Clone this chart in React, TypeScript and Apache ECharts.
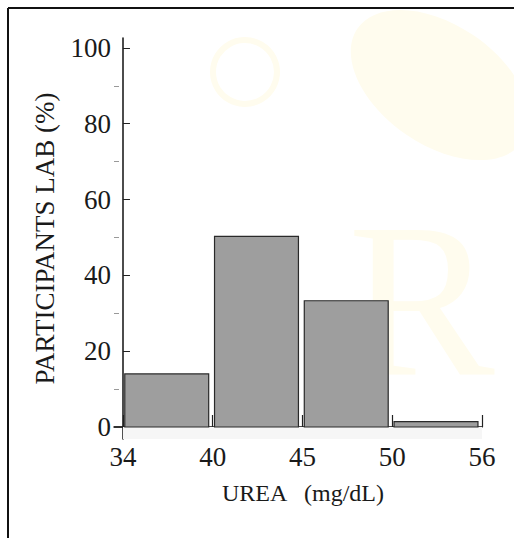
import React, { useEffect, useRef } from "react";
import * as echarts from "echarts";

const binEdges = ["34", "40", "45", "50", "56"];
const binIndex = [0, 1, 2, 3];
const percentValues = [14, 50.3, 33.3, 1.4];
const yMajorTicks = [0, 20, 40, 60, 80, 100];
const yMinorTicks = [10, 30, 50, 70, 90];
const xTickPositions = [0, 1, 2, 3, 4];

const FONT = "'Liberation Serif', 'Times New Roman', serif";
const WM = "#fffcee";

export default function App() {
  const ref = useRef<HTMLDivElement>(null);
  useEffect(() => {
    document.body.style.margin = "0";
    const chart = echarts.init(ref.current!, null, { renderer: "svg" });
    const barData = binIndex.map((b, i) => [b, percentValues[i]]);
    chart.setOption({
      animation: false,
      backgroundColor: "#ffffff",
      graphic: [
        { type: "ellipse", x: 440, y: 85, rotation: -0.6, shape: { cx: 0, cy: 0, rx: 100, ry: 60 }, style: { fill: WM }, z: -10 },
        { type: "circle", shape: { cx: 245, cy: 72, r: 32 }, style: { fill: "none", stroke: WM, lineWidth: 6 }, z: -10 },
        { type: "text", x: 348, y: 190, style: { text: "R", fontFamily: FONT, fontSize: 220, fill: WM }, z: -10 },
        { type: "line", shape: { x1: 8, y1: 8, x2: 514, y2: 8 }, style: { stroke: "#111", lineWidth: 2 } },
        { type: "line", shape: { x1: 8, y1: 8, x2: 8, y2: 538 }, style: { stroke: "#111", lineWidth: 2 } },
      ],
      grid: { left: 114, right: 32, top: 38, bottom: 99 },
      xAxis: {
        type: "value",
        min: -0.1,
        max: 4,
        splitLine: { show: false },
        axisLine: { show: true, lineStyle: { color: "#111", width: 1.5 } },
        axisTick: { show: true, inside: true, length: 12, customValues: xTickPositions, lineStyle: { color: "#222", width: 1.2 } },
        axisLabel: {
          customValues: xTickPositions,
          formatter: (v: number) => binEdges[Math.round(v)] ?? "",
          fontFamily: FONT,
          fontSize: 27,
          color: "#1a1a1a",
          margin: 4,
        },
        name: "UREA   (mg/dL)",
        nameLocation: "middle",
        nameGap: 42,
        nameTextStyle: { fontFamily: FONT, fontSize: 24, color: "#1a1a1a", padding: [0, 0, 0, 10] },
      },
      yAxis: [
        {
          type: "value",
          position: "left",
          min: -3.17,
          max: 102.6,
          splitLine: { show: false },
          axisLine: { show: true, lineStyle: { color: "#111", width: 1.5 } },
          axisTick: { show: true, inside: true, length: 7, customValues: yMajorTicks, lineStyle: { color: "#222" } },
          axisLabel: { customValues: yMajorTicks, fontFamily: FONT, fontSize: 27, color: "#1a1a1a", margin: 3 },
          name: "PARTICIPANTS LAB (%)",
          nameLocation: "middle",
          nameRotate: 90,
          nameGap: 56,
          nameTextStyle: { fontFamily: FONT, fontSize: 27, color: "#1a1a1a" },
        },
        {
          type: "value",
          position: "left",
          min: -3.17,
          max: 102.6,
          splitLine: { show: false },
          axisLine: { show: false },
          axisTick: { show: true, inside: true, length: 5, customValues: yMinorTicks, lineStyle: { color: "#999" } },
          axisLabel: { show: false },
        },
      ],
      series: [
        {
          type: "custom",
          data: [[0, 0]],
          silent: true,
          renderItem: (_p: any, api: any) => {
            const a = api.coord([0, 0]);
            const b = api.coord([4, -3.17]);
            const o = api.coord([-0.1, 0]);
            return {
              type: "group",
              children: [
                { type: "rect", shape: { x: a[0], y: a[1], width: b[0] - a[0], height: b[1] - a[1] }, style: { fill: "#f6f6f6" } },
                { type: "line", shape: { x1: o[0], y1: o[1], x2: a[0], y2: a[1] }, style: { stroke: "#222", lineWidth: 1.2 } },
              ],
            };
          },
          z: 1,
        },
        {
          type: "custom",
          data: barData,
          renderItem: (_p: any, api: any) => {
            const i = api.value(0);
            const v = api.value(1);
            const p0 = api.coord([i + 0.02, v]);
            const p1 = api.coord([i + 0.955, 0]);
            return {
              type: "rect",
              shape: { x: p0[0], y: p0[1], width: p1[0] - p0[0], height: p1[1] - p0[1] },
              style: { fill: "#9e9e9e", stroke: "#2a2a2a", lineWidth: 1.2 },
            };
          },
          z: 2,
        },
      ],
    });
    return () => chart.dispose();
  }, []);
  return <div ref={ref} style={{ width: 514, height: 538 }} />;
}
